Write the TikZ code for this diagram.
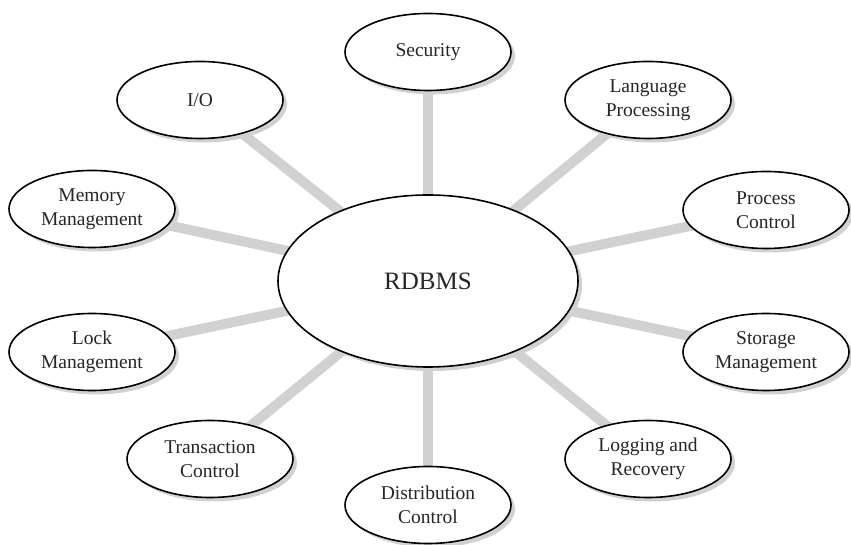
\documentclass[tikz,border=0pt]{standalone}
\usepackage{fontspec}
\setmainfont{Liberation Serif}
\usetikzlibrary{shapes.geometric,shadows}
\pgfdeclarelayer{background}
\pgfsetlayers{background,main}
\tikzset{
  topic/.style={ellipse, draw=black, line width=1.6pt, fill=white,
    minimum width=166pt, minimum height=77pt, inner sep=0pt, align=center,
    text=black!85, font=\fontsize{19.5}{24}\selectfont,
    drop shadow={shadow xshift=4pt, shadow yshift=-4pt, fill=black!18, opacity=1}},
  hub/.style={topic, minimum width=300pt, minimum height=172pt,
    font=\fontsize{25}{30}\selectfont},
  spoke/.style={draw=black!18, line width=10pt}
}
\begin{document}
\begin{tikzpicture}[x=1pt,y=1pt]
\useasboundingbox (0,0) rectangle (851,545);
\node[hub] (c) at (428,264) {RDBMS};
\node[topic] (sec) at (428,493) {Security};
\node[topic] (lang) at (648,445) {Language\\Processing};
\node[topic] (proc) at (766,335) {Process\\Control};
\node[topic] (stor) at (766,193) {Storage\\Management};
\node[topic] (log) at (648,86) {Logging and\\Recovery};
\node[topic] (dist) at (428,40) {Distribution\\Control};
\node[topic] (trans) at (210,86) {Transaction\\Control};
\node[topic] (lock) at (92,193) {Lock\\Management};
\node[topic] (mem) at (92,336) {Memory\\Management};
\node[topic] (io) at (200,445) {I/O};
\begin{pgfonlayer}{background}
\foreach \n in {sec,lang,proc,stor,log,dist,trans,lock,mem,io}
  \draw[spoke] (c.center) -- (\n.center);
\end{pgfonlayer}
\end{tikzpicture}
\end{document}
